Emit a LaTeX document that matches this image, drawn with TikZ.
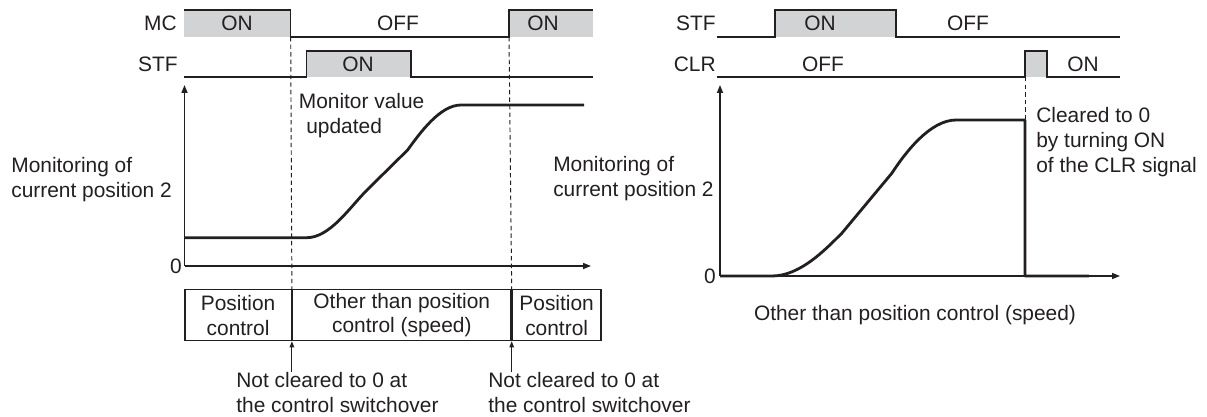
\documentclass[tikz,border=0pt]{standalone}
\usepackage{fontspec}
\setmainfont{Liberation Sans}
\usetikzlibrary{arrows.meta,positioning}
\definecolor{ink}{HTML}{231F20}
\definecolor{shade}{HTML}{D1D3D4}

\begin{document}
\begin{tikzpicture}[x=0.02cm,y=-0.02cm,>={Triangle[length=4.5pt,width=3.4pt]},
  every node/.style={font=\fontsize{11.9}{14.2}\selectfont,text=ink,inner sep=0pt},
  sig/.style={draw=ink,line width=0.7pt},
  onfill/.style={fill=shade},
  trace/.style={draw=ink,line width=1.6pt,line join=round},
  axisline/.style={draw=ink,line width=0.85pt,->},
  guide/.style={draw=ink,line width=0.55pt,dash pattern=on 2.5pt off 1.8pt},
  cell/.style={draw=ink,line width=0.7pt,minimum height=1.02cm,align=center},
  note/.style={align=left,anchor=west}]
\useasboundingbox (0,0) rectangle (1207,416);

% left: MC / STF
\node[anchor=east] (mcL) at (177,23) {MC};
\node[anchor=east] (stfL) at (178,64) {STF};
\fill[onfill] (184,10) rectangle (290.7,37);
\fill[onfill] (509,10) rectangle (593,37);
\fill[onfill] (306.7,51) rectangle (411,77);
\draw[sig] (184,10) -- (290.7,10) -- (290.7,37) -- (509,37) -- (509,10) -- (593,10);
\draw[sig] (184,77) -- (306.7,77) -- (306.7,51) -- (411,51) -- (411,77) -- (593,77);
\node (mcOnA) at (237,23) {ON};
\node (mcOff) at (398,23) {OFF};
\node (mcOnB) at (543,23) {ON};
\node (stfOnA) at (358,64) {ON};
\coordinate (swA) at (290.7,37);
\coordinate (swB) at (509,37);

% left: graph
\coordinate (oL) at (184.5,266);
\coordinate (yL) at (184.5,85);
\coordinate (xL) at (591,266);
\draw[axisline] (oL) -- (yL);
\draw[axisline] (oL) -- (xL);
\node[anchor=east] (zeroL) at (182,266) {0};
\node[note] (monL) at (11,180) {Monitoring of\\current position 2};
\node[note] (upd) at (298.5,116) {Monitor value\\\hspace*{0.15cm}updated};
\draw[trace] (184.5,237.7) -- (306.7,237.7) .. controls (330,237.7) and (350,207) .. (367,190)
  -- (407.6,150) .. controls (420,133) and (440,105) .. (461,105) -- (584,105);

% left: control mode
\node[cell,minimum width=2.128cm,anchor=north west] (posA) at (184.3,289) {Position\\control};
\node[cell,minimum width=4.372cm,right=0pt of posA.north east,anchor=north west] (other) {Other than position\\control (speed)};
\node[cell,minimum width=1.774cm,right=0pt of other.north east,anchor=north west] (posB) {Position\\control};
\draw[guide] (swA) -- (posA.north east);
\draw[guide] (swB) -- (posB.north west);
\node[note] (noteA) at (236,392.5) {Not cleared to 0 at\\the control switchover};
\node[note] (noteB) at (488,392.5) {Not cleared to 0 at\\the control switchover};
\draw[-{Triangle[length=3.5pt,width=2.6pt]},line width=0.55pt,ink] (posA.south east |- noteA.north) -- (posA.south east);
\draw[-{Triangle[length=3.5pt,width=2.6pt]},line width=0.55pt,ink] (posB.south west |- noteB.north) -- (posB.south west);

% right: STF / CLR
\node[anchor=east] (stfR) at (716,23) {STF};
\node[anchor=east] (clrR) at (716,64) {CLR};
\fill[onfill] (775,10) rectangle (896,37);
\fill[onfill] (1025,51) rectangle (1047,77);
\draw[sig] (717,37) -- (775,37) -- (775,10) -- (896,10) -- (896,37) -- (1120,37);
\draw[sig] (717,77) -- (1025,77) -- (1025,51) -- (1047,51) -- (1047,77) -- (1120,77);
\node (stfOnR) at (820,23) {ON};
\node (stfOffR) at (968,23) {OFF};
\node (clrOffR) at (823,64) {OFF};
\node (clrOnR) at (1083,64) {ON};
\coordinate (clrOn) at (1025,77);
\coordinate (clrDrop) at (1025,120);
\draw[guide] (clrOn) -- (clrDrop);

% right: graph
\coordinate (oR) at (720,276);
\coordinate (yR) at (720,85);
\coordinate (xR) at (1120,276);
\draw[axisline] (oR) -- (yR);
\draw[axisline] (oR) -- (xR);
\node[anchor=east] (zeroR) at (716,276) {0};
\node[align=left,anchor=east] (monR) at (714,179) {Monitoring of\\current position 2};
\node[note] (clrNote) at (1036,142) {Cleared to 0\\by turning ON\\of the CLR signal};
\draw[trace] (720,276) -- (772,276) .. controls (800,276) and (825,250) .. (842,233)
  -- (892,173) .. controls (905,153) and (930,120) .. (956,120) -- (1025,120) -- (1025,276) -- (1089,276);
\node (speedR) at (915,315) {Other than position control (speed)};
\end{tikzpicture}
\end{document}
